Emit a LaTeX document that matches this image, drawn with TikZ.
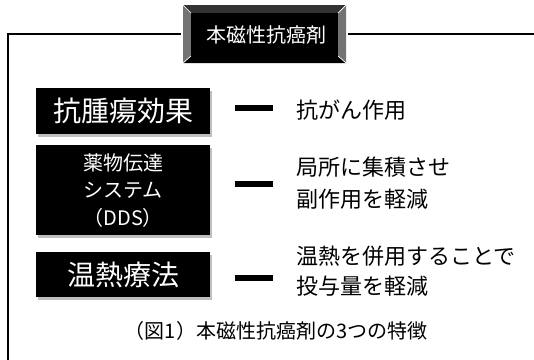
\documentclass[tikz,border=0pt]{standalone}
\usepackage{fontspec}
\setmainfont{Noto Sans CJK JP}
\usetikzlibrary{shadows}
\begin{document}
\begin{tikzpicture}[x=1pt,y=-1pt,
  blackbox/.style={fill=black, text=white, inner sep=0pt, anchor=north west,
    minimum width=174pt, align=center,
    drop shadow={shadow xshift=2pt, shadow yshift=-3pt, fill=black, opacity=0.25}},
  bar/.style={fill=black, inner sep=0pt, minimum width=38pt, minimum height=6pt, anchor=west},
  note/.style={anchor=west, inner sep=0pt, align=left},
  frame/.style={line width=2pt, line join=miter}
]
\useasboundingbox (0,0) rectangle (534,359);
% outer frame
\coordinate (fbl) at (8,360);
\coordinate (ftl) at (8,34);
\coordinate (ftr) at (534,34);
\draw[frame] (fbl) -- (ftl) -- (ftr);
% title box bevel
\fill[white] (181,3) rectangle (348,65);
\fill[black!80] (183,5) -- (346,5) -- (338,13) -- (191,13) -- cycle;
\fill[black!55] (183,5) -- (191,13) -- (191,56) -- (183,63) -- cycle;
\fill[black!55] (346,5) -- (338,13) -- (338,56) -- (346,63) -- cycle;
\fill[black] (183,63) -- (191,56) -- (338,56) -- (346,63) -- cycle;
\draw[white, line width=0.7pt] (183,5) -- (191,13) (346,5) -- (338,13) (183,63) -- (191,56) (346,63) -- (338,56);
\node[fill=black, text=white, inner sep=0pt, minimum width=147pt, minimum height=43pt,
      font=\fontsize{20}{24}\selectfont] (title) at (264.5,34.5) {\hspace{3pt}本磁性抗癌剤};
% left boxes
\node[blackbox, minimum height=46pt, font=\fontsize{28}{30}\selectfont] (b1) at (36,88) {抗腫瘍効果};
\node[blackbox, minimum height=90pt, font=\fontsize{20}{27.5}\selectfont] (b2) at (36,145) {薬物伝達\\システム\\（DDS）};
\node[blackbox, minimum height=45pt, font=\fontsize{28}{30}\selectfont] (b3) at (36,252) {温熱療法};
% bars
\node[bar] (d1) at (235,108) {};
\node[bar] (d2) at (235,184) {};
\node[bar] (d3) at (235,278) {};
% notes
\node[note, font=\fontsize{22}{32}\selectfont] (t1) at (296,110) {抗がん作用};
\node[note, font=\fontsize{22}{32}\selectfont] (t2) at (296,183) {局所に集積させ\\副作用を軽減};
\node[note, font=\fontsize{22}{30}\selectfont] (t3) at (296,271.5) {温熱を併用することで\\投与量を軽減};
% caption
\node[inner sep=0pt, font=\fontsize{20}{22}\selectfont] (cap) at (276,331) {（図1）本磁性抗癌剤の3つの特徴};
\end{tikzpicture}
\end{document}
